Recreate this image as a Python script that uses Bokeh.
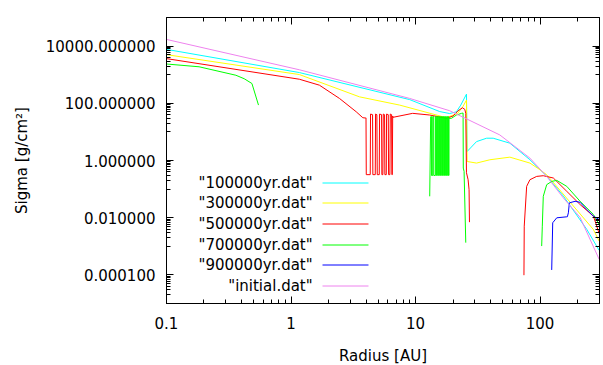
import math
from bokeh.plotting import figure
from bokeh.models import (LogAxis, FixedTicker, PrintfTickFormatter,
                          CustomJSTickFormatter, Label, Range1d,
                          ColumnDataSource)
from bokeh.embed import file_html
from bokeh.resources import INLINE

nan = float("nan")

# ---------------- data ----------------
labels = ['"100000yr.dat"', '"300000yr.dat"', '"500000yr.dat"',
          '"700000yr.dat"', '"900000yr.dat"', '"initial.dat"']
colors = ["#00ffff", "#ffff00", "#ff0000", "#00ff00", "#0000ff", "#ee82ee"]

r_100k = [0.1, 1.166, 8.97, 15.63, 18.8, 21.3, 23.07, 25.64, 25.94, 30.87,
          37.2, 42.0, 57.2, 82.9, 113, 153.8, 237.2, 298]
s_100k = [7680, 1188, 134.5, 51.4, 43.8, 50.6, 86.6, 209, 2.06, 4.58,
          6.02, 6.02, 4.03, 1.06, 0.285, 0.0569, 0.00389, 0.000723]

r_300k = [0.1, 1.166, 3.548, 7.45, 17.7, 21.8, 23.95, 25.64, 25.94, 30.87,
          39.5, 57.2, 82.9, 99.8, 113, 267.6, 298]
s_300k = [5020, 1012, 168, 86.6, 31.3, 44.5, 75.6, 129, 0.923, 0.812,
          1.06, 1.31, 0.812, 0.475, 0.318, 0.00389, 0.00152]

r_500k = [0.1, 1.166, 1.69, 2.449, 3.337, 3.771, 3.965,
          4.00, 4.02, 4.326, 4.35, 4.515, 4.54, 4.747, 4.773, 4.89, 4.926,
          5.111, 5.14, 5.335, 5.364, 5.464, 5.505, 5.639, 5.67, 5.819, 5.851,
          6.039, 6.073, 6.221, 6.267, 6.421, 6.457, 6.505, 6.55, 6.58,
          9.48, 12.99, 17.7, 20.0, 21.95, 23.82, 24.85, 25.31, 25.64, 26.42,
          26.9, 27.1, nan,
          74.2, 74.6, 78.0, 82.9, 93.9, 106.1, 127.8, 163.8, 209.6, 268.2, 298]
s_500k = [3646, 695, 430, 148, 50.6, 31.3, 30.6,
          31, 0.32, 0.32, 42, 40, 0.32, 0.32, 42, 40, 0.32,
          0.32, 42, 40, 0.32, 0.32, 42, 40, 0.32, 0.32, 42,
          40, 0.32, 0.32, 42, 40, 0.32, 0.32, 36, 32.3,
          44.5, 38.9, 29.8, 35.9, 54.8, 69.7, 61.4, 44.5, 0.373, 0.213,
          0.0957, 0.00698, nan,
          9.76e-5, 0.00506, 0.1247, 0.213, 0.278, 0.294, 0.244, 0.0835,
          0.0288, 0.01128, 0.00282]

r_700k = [0.1, 0.1827, 0.3607, 0.4207, 0.4853, 0.548, nan,
          12.99, 13.23, 13.41, 13.42, 13.73, 13.74, 13.99, 14.0, 14.43, 14.44,
          14.71, 14.72, 14.98, 14.99, 15.26, 15.27, 15.55, 15.56, 15.84, 15.85,
          16.13, 16.14, 16.44, 16.45, 16.74, 16.75, 17.06, 17.07, 17.38, 17.39,
          17.70, 17.71, 18.03, 18.04, 18.37, 18.38, 18.56, 18.57, 19.42,
          21.3, 23.38, 24.08, 24.17, 24.53, 25.31, nan,
          103, 104.2, 106.1, 113, 124, 136.1, 163.8, 209.6, 268.2, 298]
s_700k = [2365, 1890, 957, 723, 492, 86.6, nan,
          0.056, 33.9, 34.5, 0.30, 0.30, 34.5, 34.5, 0.30, 0.30, 34.5,
          34.5, 0.30, 0.30, 34.5, 34.5, 0.30, 0.30, 34.5, 34.5, 0.30,
          0.30, 34.5, 34.5, 0.30, 0.30, 34.5, 34.5, 0.30, 0.30, 34.5,
          34.5, 0.30, 0.30, 34.5, 34.5, 0.30, 0.30, 29.8, 29.8,
          38.9, 44.5, 45.6, 0.544, 0.414, 0.00134, nan,
          0.00102, 0.00506, 0.056, 0.1428, 0.186, 0.2015, 0.1247, 0.0375,
          0.01292, 0.0058]

r_900k = [124, 126.3, 136.1, 163.8, 165.6, 168.7, 171.8, 191, 209.6, 237.2,
          268.2, 298]
s_900k = [1.49e-4, 0.00665, 0.00992, 0.01075, 0.0108, 0.0148, 0.033, 0.0375,
          0.0346, 0.0193, 0.01128, 0.00866]

r_init = [0.1, 1.166, 8.97, 18.8, 47.5, 82.9, 113, 153.8, 209.6, 298]
s_init = [17100, 1486, 148, 54.9, 7.83, 1.21, 0.278, 0.0492, 0.0102, 0.000352]

x_major = [0.1, 1, 10, 100]
y_major = [1e-4, 1e-2, 1, 1e2, 1e4]

series = [(r_100k, s_100k), (r_300k, s_300k), (r_500k, s_500k),
          (r_700k, s_700k), (r_900k, s_900k), (r_init, s_init)]

XMIN, XMAX = 0.1, 300
YMIN, YMAX = 1e-5, 1e5
FONT = "DejaVu Sans"
FRAME_H = 286

p = figure(x_axis_type="log", y_axis_type="log",
           x_range=Range1d(XMIN, XMAX), y_range=Range1d(YMIN, YMAX),
           frame_width=433, frame_height=FRAME_H,
           min_border_left=166, min_border_right=4, min_border_top=17,
           min_border_bottom=62,
           output_backend="svg", toolbar_location=None,
           background_fill_color="white", border_fill_color="white",
           outline_line_color="black")
p.grid.visible = False

for (rx, sy), c in zip(series, colors):
    p.line(rx, sy, line_color=c, line_width=1)

x_minor = [k * 10.0 ** d for d in range(-1, 3) for k in range(2, 10)
           if k * 10.0 ** d <= XMAX]
y_minor = [k * 10.0 ** d for d in (-5, -3, -1, 1, 3) for k in range(1, 10)]
xt = FixedTicker(ticks=x_major, minor_ticks=x_minor)
yt = FixedTicker(ticks=y_major, minor_ticks=y_minor)


def style(ax):
    ax.major_tick_in = 7
    ax.major_tick_out = 0
    ax.minor_tick_in = 4
    ax.minor_tick_out = 0
    ax.axis_line_color = "black"
    ax.major_tick_line_color = "black"
    ax.minor_tick_line_color = "black"
    ax.major_label_text_font = FONT
    ax.major_label_text_font_size = "15px"
    ax.major_label_text_color = "black"
    ax.axis_label_text_font = FONT
    ax.axis_label_text_font_size = "15px"
    ax.axis_label_text_font_style = "normal"
    ax.axis_label_text_color = "black"


xa = p.xaxis[0]
xa.ticker = xt
xa.formatter = CustomJSTickFormatter(
    code="return tick < 1 ? tick.toFixed(1) : tick.toFixed(0);")
xa.axis_label = "Radius [AU]"
style(xa)
xa.major_label_standoff = 13
xa.axis_label_standoff = 15

ya = p.yaxis[0]
ya.ticker = yt
ya.formatter = PrintfTickFormatter(format="%.6f")
ya.axis_label = "Sigma [g/cm²]"
style(ya)
ya.major_label_standoff = 11
ya.axis_label_standoff = 12

top = LogAxis(ticker=xt)
style(top)
top.major_label_text_font_size = "1px"
top.major_label_text_alpha = 0
top.major_label_standoff = 0
p.add_layout(top, "above")

right = LogAxis(ticker=yt)
style(right)
right.major_label_text_font_size = "1px"
right.major_label_text_alpha = 0
right.major_label_standoff = 0
p.add_layout(right, "right")

# ---------------- legend (label left, sample right, like gnuplot) -------
lx0, lx1 = math.log10(XMIN), math.log10(XMAX)
ly0, ly1 = math.log10(YMIN), math.log10(YMAX)


def fx(f):
    return 10 ** (lx0 + f * (lx1 - lx0))


def fy_px(py):
    # py: pixels down from frame top, placed on a pixel centre
    f = (FRAME_H - py) / FRAME_H
    return 10 ** (ly0 + f * (ly1 - ly0))


row_px = [165.5, 185.5, 206.5, 227.5, 247.5, 268.5]
leg = dict(x0=[], x1=[], y=[], c=[])
for i, (lab, c) in enumerate(zip(labels, colors)):
    yy = fy_px(row_px[i])
    p.add_layout(Label(x=fx(0.3375), y=yy, text=lab, text_align="right",
                       text_baseline="middle", text_font=FONT,
                       text_font_size="15px", text_color="black"))
    leg["x0"].append(fx(0.3603))
    leg["x1"].append(fx(0.4665))
    leg["y"].append(yy)
    leg["c"].append(c)
p.segment(x0="x0", y0="y", x1="x1", y1="y", line_color="c", line_width=1,
          source=ColumnDataSource(leg))

open("out.html", "w").write(file_html(p, INLINE))
